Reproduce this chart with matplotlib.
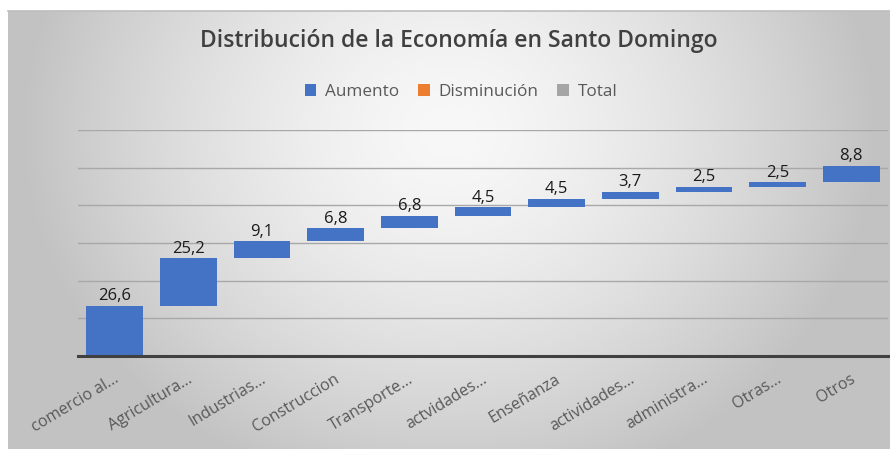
import numpy as np
import matplotlib
matplotlib.use("Agg")
import matplotlib.pyplot as plt
from matplotlib.patches import Patch

categories = ["comercio al...", "Agricultura...", "Industrias...", "Construccion",
              "Transporte...", "actvidades...", "Enseñanza", "actividades...",
              "administra...", "Otras...", "Otros"]
values = [26.6, 25.2, 9.1, 6.8, 6.8, 4.5, 4.5, 3.7, 2.5, 2.5, 8.8]
legend_labels = ["Aumento", "Disminución", "Total"]
title = "Distribución de la Economía en Santo Domingo"

BLUE = "#4472C4"
ORANGE = "#ED7D31"
GRAY = "#A5A5A5"

plt.rcParams['font.family'] = ['Open Sans', 'DejaVu Sans']

W, H = 890, 449
fig = plt.figure(figsize=(W / 100, H / 100), dpi=100)
fig.patch.set_facecolor("white")

# background gradient panel
bx0, by_top = 8, 11
bg = fig.add_axes([bx0 / W, 0, 1 - bx0 / W, (H - by_top) / H])
bg.set_axis_off()
yy, xx = np.mgrid[0:H - by_top, 0:W - bx0]
cx, cy = (W - bx0) / 2, 120
d = np.sqrt(((xx - cx) / 460) ** 2 + ((yy - cy) / 400) ** 2)
g = np.clip(248 - 60 * d ** 1.5, 194, 248) / 255
bg.imshow(np.dstack([g, g, g]), aspect='auto', extent=[0, 1, 0, 1], origin='upper')
bg.plot([0, 1], [1, 1], color="#bdbdbd", lw=1.2, transform=bg.transAxes, clip_on=False)

# main axes
x0, x1 = 78, 888
y_base, y_top = 356, 130
ax = fig.add_axes([x0 / W, (H - y_base) / H, (x1 - x0) / W, (y_base - y_top) / H])
ax.set_facecolor("none")

vals = np.array(values)
bottoms = np.concatenate([[0], np.cumsum(vals)[:-1]])
x = np.arange(len(categories))
ax.bar(x, vals, bottom=bottoms, width=0.77, color=BLUE, zorder=3)
for xi, b, v in zip(x, bottoms, vals):
    ax.text(xi, b + v + 0.9, f"{v:.1f}".replace(".", ","), ha='center', va='bottom',
            fontsize=12, color="#1a1a1a", zorder=4)

ax.set_ylim(0, 120)
ax.set_xlim(-0.5, len(categories) - 0.5)
ax.set_yticks(np.arange(20, 121, 20))
ax.yaxis.grid(True, color="#a8a8a8", lw=1.0, zorder=0)
ax.tick_params(axis='y', left=False, labelleft=False)
ax.tick_params(axis='x', length=0, pad=4)
for s in ["top", "right", "left"]:
    ax.spines[s].set_visible(False)
ax.spines["bottom"].set_color("#404040")
ax.spines["bottom"].set_linewidth(2.2)
ax.spines["bottom"].set_zorder(5)
ax.set_xticks(x)
ax.set_xticklabels([])
for xi, lab in zip(x, categories):
    ax.annotate(lab, xy=(xi, 0), xycoords=('data', 'axes fraction'),
                xytext=(-1, -11), textcoords='offset points',
                rotation=31, ha='right', va='top', rotation_mode='anchor',
                fontsize=11.5, color="#595959")

fig.text(0.515, (H - 41) / H, title, ha='center', va='center', fontsize=16.5,
         fontweight='semibold', color="#404040")

handles = [Patch(facecolor=c, edgecolor='none') for c in (BLUE, ORANGE, GRAY)]
fig.legend(handles, legend_labels, loc='center', bbox_to_anchor=(0.518, (H - 92) / H),
           ncol=3, frameon=False, fontsize=12.3, handlelength=0.7, handleheight=0.7,
           handletextpad=0.5, columnspacing=1.1, labelcolor="#595959")

fig.savefig("out.png", dpi=100)
